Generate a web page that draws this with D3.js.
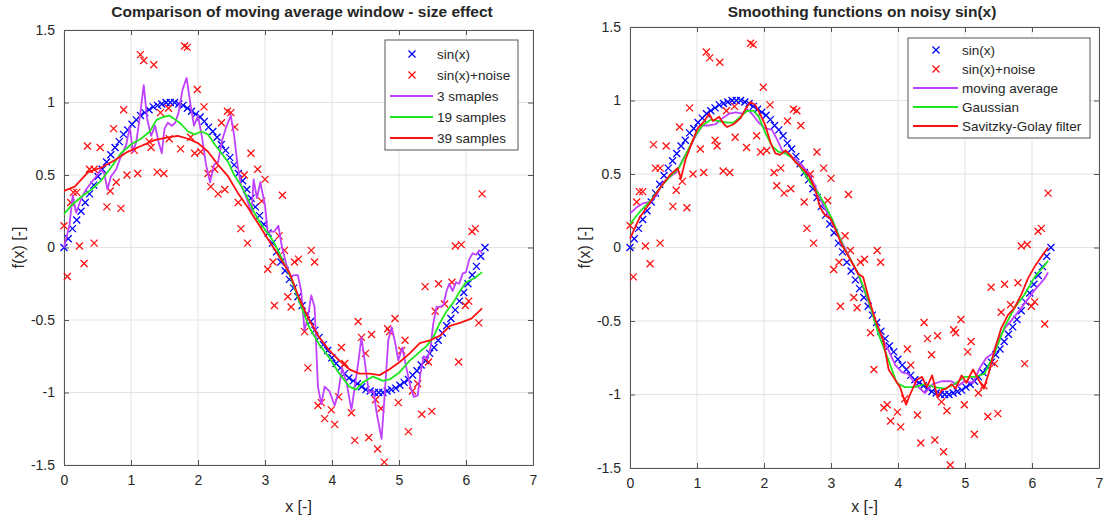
<!DOCTYPE html>
<html>
<head>
<meta charset="utf-8">
<script src="https://cdn.jsdelivr.net/npm/d3@7/dist/d3.min.js"></script>
<style>
  body { margin: 0; background: #fff; }
  svg text { font-family: "Liberation Sans", Arial, sans-serif; fill: #262626; }
</style>
</head>
<body>
<svg id="chart" width="1113" height="523"></svg>
<script>

// sample positions of the clean signal (100 points over one period)
var xSin = [0,0.063,0.127,0.190,0.254,0.317,0.381,0.444,0.508,0.571,
  0.635,0.698,0.762,0.825,0.889,0.952,1.015,1.079,1.142,1.206,
  1.269,1.333,1.396,1.460,1.523,1.587,1.650,1.714,1.777,1.841,
  1.904,1.967,2.031,2.094,2.158,2.221,2.285,2.348,2.412,2.475,
  2.539,2.602,2.666,2.729,2.792,2.856,2.919,2.983,3.046,3.110,
  3.173,3.237,3.300,3.364,3.427,3.491,3.554,3.618,3.681,3.745,
  3.808,3.871,3.935,3.998,4.062,4.125,4.189,4.252,4.316,4.379,
  4.443,4.506,4.570,4.633,4.697,4.760,4.823,4.887,4.950,5.014,
  5.077,5.141,5.204,5.268,5.331,5.395,5.458,5.522,5.585,5.648,
  5.712,5.775,5.839,5.902,5.966,6.029,6.093,6.156,6.220,6.283];
var ySin = [0,0.06,0.13,0.19,0.25,0.31,0.37,0.43,0.49,0.54,
  0.59,0.64,0.69,0.73,0.78,0.81,0.85,0.88,0.91,0.93,
  0.95,0.97,0.98,0.99,1.00,1.00,1.00,0.99,0.98,0.96,
  0.94,0.92,0.90,0.87,0.83,0.80,0.76,0.71,0.67,0.62,
  0.57,0.51,0.46,0.40,0.34,0.28,0.22,0.16,0.10,0.03,
  -0.03,-0.10,-0.16,-0.22,-0.28,-0.34,-0.40,-0.46,-0.51,-0.57,
  -0.62,-0.67,-0.71,-0.76,-0.80,-0.83,-0.87,-0.90,-0.92,-0.94,
  -0.96,-0.98,-0.99,-1.00,-1.00,-1.00,-0.99,-0.98,-0.97,-0.95,
  -0.93,-0.91,-0.88,-0.85,-0.81,-0.78,-0.73,-0.69,-0.64,-0.59,
  -0.54,-0.49,-0.43,-0.37,-0.31,-0.25,-0.19,-0.13,-0.06,0];

// noisy samples (same in both panels)
var xNoise = [0.00,0.05,0.10,0.14,0.19,0.23,0.30,0.35,0.38,0.45,0.45,0.54,0.64,0.69,0.74,0.78,0.85,0.89,0.94,1.05,
  1.10,1.14,1.19,1.27,1.30,1.34,1.39,1.44,1.49,1.56,1.57,1.74,1.80,1.84,1.89,1.95,1.99,2.04,2.09,2.15,
  2.19,2.25,2.30,2.35,2.40,2.44,2.49,2.55,2.60,2.64,2.69,2.74,2.79,2.89,2.95,3.00,3.04,3.12,3.14,3.21,
  3.26,3.29,3.34,3.39,3.44,3.50,3.59,3.64,3.69,3.74,3.79,3.84,3.89,3.99,4.04,4.10,4.14,4.19,4.29,4.34,
  4.39,4.44,4.50,4.55,4.59,4.65,4.68,4.73,4.78,4.83,4.86,4.94,4.99,5.04,5.09,5.14,5.20,5.28,5.34,5.39,
  5.44,5.49,5.54,5.59,5.68,5.79,5.84,5.89,5.93,5.99,6.04,6.09,6.14,6.19,6.24];
var yNoise = [0.15,-0.20,0.31,0.38,0.38,0.01,-0.11,0.70,0.54,0.54,0.03,0.69,0.28,0.39,0.82,0.45,0.27,0.95,0.50,0.67,
  0.51,1.33,1.29,0.73,0.69,1.26,0.52,0.93,0.51,0.96,0.75,0.68,1.39,1.38,0.76,0.65,1.09,0.66,0.97,0.51,
  0.42,0.54,0.37,0.86,0.40,0.94,0.93,0.83,0.31,0.13,0.50,0.03,0.65,0.54,0.32,0.47,-0.15,-0.10,-0.40,0.08,
  0.36,-0.02,-0.34,-0.41,-0.10,-0.08,-0.58,-0.83,-0.02,-0.10,-1.09,-1.07,-1.18,-1.12,-1.22,-1.03,-0.69,-0.80,-1.14,-1.33,
  -0.51,-0.62,-0.73,-1.31,-0.60,-1.05,-1.39,-1.11,-1.48,-0.56,-0.58,-0.49,-1.07,-0.71,-0.64,-1.27,-0.99,-0.94,-1.15,-0.27,
  -0.79,-1.13,-0.44,-0.25,-0.39,-0.24,0.01,-0.79,0.02,-0.40,-0.37,0.11,0.13,-0.52,0.37];

// left panel: moving average, 3 samples
var xMov3 = [0,0.08,0.13,0.18,0.26,0.33,0.41,0.48,0.55,0.60,0.65,0.70,0.78,0.85,0.93,0.98,1.03,1.08,1.14,1.19,
  1.24,1.30,1.36,1.41,1.46,1.50,1.55,1.61,1.66,1.71,1.77,1.83,1.89,1.94,2.00,2.06,2.12,2.18,2.24,2.30,
  2.36,2.42,2.49,2.54,2.59,2.64,2.69,2.74,2.80,2.83,2.88,2.93,3.00,3.04,3.14,3.20,3.25,3.32,3.38,3.44,
  3.49,3.54,3.59,3.64,3.69,3.74,3.79,3.84,3.89,3.96,4.04,4.09,4.15,4.22,4.29,4.34,4.39,4.44,4.49,4.55,
  4.62,4.67,4.74,4.79,4.84,4.89,4.94,4.99,5.05,5.11,5.17,5.22,5.28,5.32,5.37,5.42,5.47,5.51,5.56,5.61,
  5.66,5.71,5.75,5.80,5.85,5.90,5.95,6.00,6.05,6.10,6.15,6.20,6.24];
var yMov3 = [0,0.15,0.36,0.24,0.34,0.40,0.45,0.49,0.54,0.51,0.40,0.49,0.54,0.63,0.71,0.83,0.66,0.73,0.93,1.12,
  0.89,0.77,0.84,0.73,0.65,0.82,0.86,0.84,0.86,0.93,1.09,1.17,0.98,0.84,0.91,0.76,0.57,0.45,0.57,0.59,
  0.74,0.83,0.91,0.77,0.57,0.43,0.38,0.32,0.24,0.47,0.34,0.45,0.29,0.11,0.11,0.15,0.01,-0.12,-0.20,-0.19,
  -0.19,-0.30,-0.57,-0.48,-0.33,-0.41,-0.96,-1.08,-0.96,-0.99,-1.09,-1.01,-0.83,-0.94,-1.12,-0.96,-0.80,-0.62,-0.79,-1.00,
  -0.99,-1.15,-1.32,-0.99,-0.64,-0.55,-0.65,-0.78,-0.69,-0.83,-0.96,-1.03,-1.02,-0.87,-0.75,-0.77,-0.69,-0.53,-0.41,-0.41,
  -0.40,-0.30,-0.25,-0.30,-0.24,-0.25,-0.18,-0.17,-0.08,-0.04,-0.05,-0.02,-0.04];

// left panel: moving average, 19 samples
var xMov19 = [0,0.11,0.26,0.41,0.55,0.70,0.85,1.00,1.15,1.28,1.38,1.48,1.57,1.67,1.75,1.85,1.95,2.05,2.15,2.25,
  2.35,2.45,2.54,2.64,2.74,2.84,2.94,3.07,3.14,3.37,3.51,3.66,3.81,3.96,4.11,4.26,4.36,4.46,4.61,4.76,
  4.86,5.01,5.16,5.31,5.41,5.51,5.61,5.71,5.81,5.91,6.00,6.13,6.24];
var yMov19 = [0.23,0.29,0.35,0.40,0.46,0.55,0.65,0.71,0.75,0.80,0.88,0.90,0.91,0.88,0.85,0.80,0.78,0.80,0.78,0.71,
  0.65,0.59,0.50,0.43,0.34,0.24,0.16,0.08,0.03,-0.19,-0.37,-0.55,-0.67,-0.76,-0.87,-0.96,-0.98,-0.93,-0.89,-0.92,
  -0.91,-0.86,-0.78,-0.72,-0.68,-0.62,-0.52,-0.44,-0.38,-0.30,-0.24,-0.21,-0.17];

// left panel: moving average, 39 samples
var xMov39 = [0,0.16,0.36,0.55,0.75,0.95,1.15,1.35,1.55,1.70,1.85,2.00,2.15,2.30,2.45,2.59,2.74,2.89,3.04,3.14,
  3.37,3.51,3.66,3.81,3.96,4.11,4.26,4.41,4.56,4.71,4.86,5.01,5.16,5.31,5.46,5.61,5.76,5.91,6.08,6.24];
var yMov39 = [0.39,0.42,0.52,0.55,0.60,0.66,0.70,0.74,0.76,0.77,0.75,0.72,0.66,0.57,0.49,0.38,0.28,0.17,0.06,-0.01,
  -0.18,-0.35,-0.50,-0.62,-0.71,-0.78,-0.84,-0.87,-0.87,-0.88,-0.84,-0.79,-0.73,-0.66,-0.64,-0.61,-0.54,-0.52,-0.49,-0.42];

// right panel: moving average
var xMavg = [0,0.09,0.19,0.29,0.39,0.49,0.59,0.69,0.79,0.88,0.98,1.08,1.18,1.28,1.38,1.48,1.58,1.68,1.75,1.82,
  1.92,2.02,2.12,2.20,2.27,2.37,2.47,2.57,2.67,2.76,2.86,2.96,3.06,3.16,3.41,3.56,3.71,3.86,3.96,4.06,
  4.15,4.28,4.40,4.52,4.65,4.80,4.90,4.99,5.12,5.22,5.32,5.42,5.49,5.61,5.74,5.89,6.04,6.19,6.24];
var yMavg = [0.23,0.27,0.30,0.31,0.35,0.44,0.48,0.51,0.60,0.67,0.76,0.83,0.83,0.84,0.88,0.91,0.92,0.91,0.94,0.91,
  0.85,0.81,0.80,0.73,0.66,0.63,0.60,0.56,0.50,0.42,0.31,0.22,0.13,0.04,-0.19,-0.37,-0.57,-0.70,-0.80,-0.85,
  -0.86,-0.94,-0.99,-0.93,-0.91,-0.91,-0.94,-0.91,-0.92,-0.82,-0.75,-0.72,-0.63,-0.54,-0.47,-0.38,-0.29,-0.21,-0.17];

// right panel: gaussian
var xGauss = [0,0.14,0.29,0.44,0.59,0.73,0.83,0.96,1.08,1.21,1.33,1.45,1.55,1.65,1.75,1.85,1.92,2.02,2.12,2.22,
  2.32,2.42,2.52,2.61,2.71,2.81,2.91,3.01,3.11,3.19,3.41,3.56,3.71,3.86,3.98,4.10,4.25,4.40,4.55,4.70,
  4.84,4.99,5.14,5.29,5.44,5.59,5.74,5.89,6.04,6.19,6.24];
var yGauss = [0.16,0.24,0.31,0.40,0.48,0.54,0.63,0.75,0.83,0.87,0.86,0.85,0.85,0.89,0.93,0.93,0.89,0.78,0.69,0.65,
  0.64,0.61,0.56,0.50,0.43,0.37,0.29,0.20,0.09,0,-0.18,-0.36,-0.59,-0.77,-0.92,-0.95,-0.95,-0.93,-0.95,-0.96,
  -0.93,-0.88,-0.88,-0.86,-0.72,-0.54,-0.41,-0.32,-0.20,-0.12,-0.09];

// right panel: savitzky-golay
var xSgol = [0,0.14,0.29,0.44,0.59,0.71,0.76,0.83,0.93,1.01,1.11,1.18,1.24,1.33,1.40,1.45,1.55,1.65,1.72,1.80,
  1.87,1.95,2.02,2.10,2.17,2.24,2.32,2.39,2.47,2.57,2.67,2.76,2.84,2.91,2.99,3.06,3.16,3.41,3.48,3.56,
  3.66,3.78,3.86,3.93,4.03,4.12,4.18,4.28,4.36,4.43,4.51,4.59,4.65,4.72,4.80,4.86,4.95,5.02,5.12,5.19,
  5.28,5.35,5.44,5.54,5.64,5.74,5.84,5.94,6.04,6.16,6.24];
var ySgol = [0.06,0.20,0.30,0.40,0.49,0.54,0.47,0.60,0.72,0.81,0.86,0.91,0.86,0.89,0.84,0.82,0.84,0.88,0.94,0.99,
  0.97,0.90,0.83,0.71,0.64,0.63,0.66,0.63,0.58,0.54,0.49,0.40,0.27,0.22,0.20,0.13,0.02,-0.18,-0.20,-0.34,
  -0.49,-0.63,-0.83,-0.88,-0.95,-1.07,-1.00,-0.90,-0.88,-0.95,-0.87,-1.02,-0.97,-0.96,-0.93,-0.96,-0.87,-0.92,-0.83,-0.89,
  -0.96,-0.86,-0.70,-0.55,-0.46,-0.41,-0.32,-0.21,-0.13,-0.05,0];

var xTicks = [0, 1, 2, 3, 4, 5, 6, 7];
var yTicks = [-1.5, -1, -0.5, 0, 0.5, 1, 1.5];

var BLUE = '#0000ff', RED = '#ff1010', PURPLE = '#c040ff', GREEN = '#1ee61e';

var svg = d3.select('#chart');

function cross(g, x, y, r, color) {
  g.append('path')
    .attr('d', 'M' + (x - r) + ',' + (y - r) + 'L' + (x + r) + ',' + (y + r) +
               'M' + (x - r) + ',' + (y + r) + 'L' + (x + r) + ',' + (y - r))
    .attr('stroke', color).attr('stroke-width', 1.3).attr('fill', 'none');
}

function drawPanel(p) {
  var g = svg.append('g');
  var x = d3.scaleLinear().domain([0, 7]).range([p.left, p.right]);
  var y = d3.scaleLinear().domain([-1.5, 1.5]).range([p.bottom, p.top]);

  // grid
  g.selectAll('.vg').data(xTicks).enter().append('line')
    .attr('x1', function(d){ return x(d); }).attr('x2', function(d){ return x(d); })
    .attr('y1', p.top).attr('y2', p.bottom)
    .attr('stroke', '#e3e3e3').attr('stroke-width', 1);
  g.selectAll('.hg').data(yTicks).enter().append('line')
    .attr('y1', function(d){ return y(d); }).attr('y2', function(d){ return y(d); })
    .attr('x1', p.left).attr('x2', p.right)
    .attr('stroke', '#e3e3e3').attr('stroke-width', 1);

  // axes (ticks inside, like matlab)
  var fmt = function(d){ return String(d); };
  g.append('g').attr('transform', 'translate(0,' + p.bottom + ')')
    .call(d3.axisBottom(x).tickValues(xTicks).tickFormat(fmt).tickSizeInner(-5).tickSizeOuter(0).tickPadding(10));
  g.append('g').attr('transform', 'translate(0,' + p.top + ')')
    .call(d3.axisTop(x).tickValues(xTicks).tickFormat('').tickSizeInner(-5).tickSizeOuter(0));
  g.append('g').attr('transform', 'translate(' + p.left + ',0)')
    .call(d3.axisLeft(y).tickValues(yTicks).tickFormat(fmt).tickSizeInner(-5).tickSizeOuter(0).tickPadding(9));
  g.append('g').attr('transform', 'translate(' + p.right + ',0)')
    .call(d3.axisRight(y).tickValues(yTicks).tickFormat('').tickSizeInner(-5).tickSizeOuter(0));
  g.selectAll('.domain, .tick line').attr('stroke', '#555');
  g.selectAll('.tick text').attr('font-size', 14).attr('fill', '#333')
    .attr('font-family', '"Liberation Sans", Arial, sans-serif');

  // clean signal markers
  var gs = g.append('g');
  xSin.forEach(function(d, i){ cross(gs, x(d), y(ySin[i]), 3.5, BLUE); });
  // noisy markers
  var gn = g.append('g');
  xNoise.forEach(function(d, i){ cross(gn, x(d), y(yNoise[i]), 3.5, RED); });

  // filtered lines
  p.lines.forEach(function(s){
    var pts = s.xs.map(function(d, i){ return [d, s.ys[i]]; });
    g.append('path').datum(pts)
      .attr('d', d3.line().x(function(d){ return x(d[0]); }).y(function(d){ return y(d[1]); }))
      .attr('fill', 'none').attr('stroke', s.color).attr('stroke-width', 1.8)
      .attr('stroke-linejoin', 'round');
  });

  // title and labels
  svg.append('text').attr('x', p.titleX).attr('y', p.titleY).attr('text-anchor', 'middle')
    .attr('font-size', 15.5).attr('font-weight', 'bold').attr('fill', '#111').text(p.title);
  svg.append('text').attr('x', (p.left + p.right) / 2).attr('y', 512).attr('text-anchor', 'middle')
    .attr('font-size', 16).attr('fill', '#333').text('x [-]');
  svg.append('text').attr('transform', 'translate(' + p.ylabX + ',' + ((p.top + p.bottom) / 2) + ') rotate(-90)')
    .attr('text-anchor', 'middle').attr('font-size', 16).attr('fill', '#333').text('f(x) [-]');

  // legend
  var L = p.legend;
  var lg = svg.append('g');
  lg.append('rect').attr('x', L.x).attr('y', L.y).attr('width', L.w).attr('height', L.h)
    .attr('fill', '#fff').attr('stroke', '#555').attr('stroke-width', 1);
  L.items.forEach(function(it, i){
    var cy = L.y + L.first + i * L.step;
    if (it.marker) {
      cross(lg, L.mx, cy, 3.5, it.color);
    } else {
      lg.append('line').attr('x1', L.lx0).attr('x2', L.lx1).attr('y1', cy).attr('y2', cy)
        .attr('stroke', it.color).attr('stroke-width', 1.8);
    }
    lg.append('text').attr('x', L.tx).attr('y', cy + 5).attr('font-size', 13.5)
      .attr('fill', '#111').text(it.label);
  });
}

drawPanel({
  left: 64, right: 533, top: 30, bottom: 465,
  title: 'Comparison of moving average window - size effect', titleX: 302, titleY: 17,
  ylabX: 24,
  lines: [
    { xs: xMov3, ys: yMov3, color: PURPLE },
    { xs: xMov19, ys: yMov19, color: GREEN },
    { xs: xMov39, ys: yMov39, color: RED }
  ],
  legend: {
    x: 385, y: 40, w: 133, h: 110, first: 14, step: 21,
    mx: 412, lx0: 390, lx1: 433, tx: 437,
    items: [
      { label: 'sin(x)', color: BLUE, marker: true },
      { label: 'sin(x)+noise', color: RED, marker: true },
      { label: '3 smaples', color: PURPLE },
      { label: '19 samples', color: GREEN },
      { label: '39 samples', color: RED }
    ]
  }
});

drawPanel({
  left: 630, right: 1099, top: 27, bottom: 468,
  title: 'Smoothing functions on noisy sin(x)', titleX: 862, titleY: 17,
  ylabX: 590,
  lines: [
    { xs: xMavg, ys: yMavg, color: PURPLE },
    { xs: xGauss, ys: yGauss, color: GREEN },
    { xs: xSgol, ys: ySgol, color: RED }
  ],
  legend: {
    x: 908, y: 38, w: 182, h: 100, first: 12, step: 19,
    mx: 936, lx0: 913, lx1: 958, tx: 962,
    items: [
      { label: 'sin(x)', color: BLUE, marker: true },
      { label: 'sin(x)+noise', color: RED, marker: true },
      { label: 'moving average', color: PURPLE },
      { label: 'Gaussian', color: GREEN },
      { label: 'Savitzky-Golay filter', color: RED }
    ]
  }
});
</script>
</body>
</html>
